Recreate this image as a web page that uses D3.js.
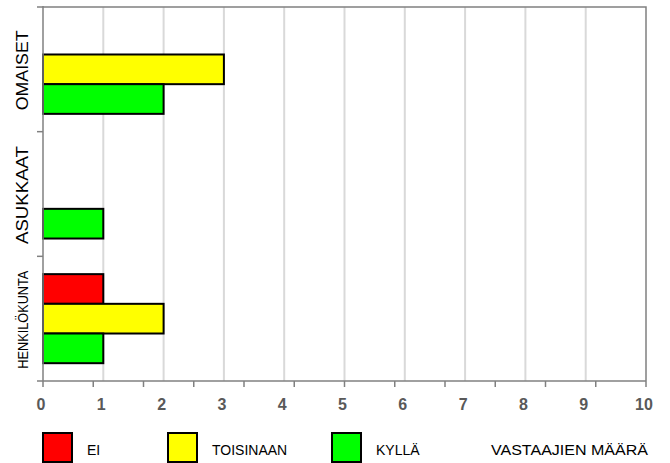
<!DOCTYPE html>
<html>
<head>
<meta charset="utf-8">
<script src="https://d3js.org/d3.v7.min.js"></script>
<style>
  body { margin: 0; background: #fff; }
  svg { font-family: "Liberation Sans", Arial, sans-serif; }
</style>
</head>
<body>
<svg width="670" height="463"></svg>
<script>
// data
var groups = ["OMAISET", "ASUKKAAT", "HENKILÖKUNTA"];
var series = ["EI", "TOISINAAN", "KYLLÄ"];
var colors = ["#ff0000", "#ffff00", "#00ff00"];
var ei        = [0, 0, 1];
var toisinaan = [3, 0, 2];
var kylla     = [2, 1, 1];
var xTicks = [0, 1, 2, 3, 4, 5, 6, 7, 8, 9, 10];
var legendTitle = "VASTAAJIEN MÄÄRÄ";

var values = [ei, toisinaan, kylla];
var rows = [];
groups.forEach(function(g, gi) {
  series.forEach(function(s, si) {
    rows.push({group: g, series: s, value: values[si][gi], color: colors[si]});
  });
});

var svg = d3.select("svg");
var plotL = 43, plotR = 646, plotT = 7, plotB = 381;

var x = d3.scaleLinear().domain([0, 10]).range([plotL, plotR]);
var y = d3.scaleBand().domain(groups).range([plotT, plotB]).padding(0);
var ySub = d3.scaleBand().domain(series).range([0, y.bandwidth()]).paddingOuter(0.6).paddingInner(0);

// gridlines
svg.append("g")
  .selectAll("line")
  .data(xTicks.slice(1, -1))
  .enter().append("line")
  .attr("x1", function(d) { return x(d); })
  .attr("x2", function(d) { return x(d); })
  .attr("y1", plotT)
  .attr("y2", plotB)
  .attr("stroke", "#d9d9d9")
  .attr("stroke-width", 2);

// frame top/right
svg.append("path")
  .attr("d", "M" + plotL + "," + plotT + "H" + plotR + "V" + plotB)
  .attr("fill", "none")
  .attr("stroke", "#808080")
  .attr("stroke-width", 1.5);

// bars
svg.append("g")
  .selectAll("rect")
  .data(rows.filter(function(d) { return d.value > 0; }))
  .enter().append("rect")
  .attr("x", x(0))
  .attr("y", function(d) { return y(d.group) + ySub(d.series); })
  .attr("width", function(d) { return x(d.value) - x(0); })
  .attr("height", ySub.bandwidth())
  .attr("fill", function(d) { return d.color; })
  .attr("stroke", "#000")
  .attr("stroke-width", 2);

// left axis
var yAxis = svg.append("g")
  .attr("transform", "translate(" + plotL + ",0)");
yAxis.append("line")
  .attr("x1", 0).attr("x2", 0)
  .attr("y1", plotT - 1).attr("y2", plotB)
  .attr("stroke", "#808080").attr("stroke-width", 1.5);
yAxis.selectAll(".tk")
  .data(groups.concat(["end"]))
  .enter().append("line")
  .attr("x1", -6).attr("x2", 0)
  .attr("y1", function(d, i) { return plotT + i * y.step(); })
  .attr("y2", function(d, i) { return plotT + i * y.step(); })
  .attr("stroke", "#808080").attr("stroke-width", 1.5);

var labelLen = {"OMAISET": 80, "ASUKKAAT": 98, "HENKILÖKUNTA": 98};
var labelSize = {"OMAISET": 17, "ASUKKAAT": 17, "HENKILÖKUNTA": 15};
svg.append("g")
  .selectAll("text")
  .data(groups)
  .enter().append("text")
  .attr("transform", function(d) {
    return "translate(28," + (y(d) + y.bandwidth() / 2 + 1) + ") rotate(-90)";
  })
  .attr("text-anchor", "middle")
  .attr("font-size", function(d) { return labelSize[d] + "px"; })
  .attr("textLength", function(d) { return labelLen[d]; })
  .attr("lengthAdjust", "spacingAndGlyphs")
  .attr("fill", "#000")
  .text(function(d) { return d; });

// bottom axis (tick marks spaced independently of gridlines)
var xMarks = d3.scaleLinear().domain([0, 12]).range([plotL, plotR]);
var bAxis = svg.append("g")
  .attr("transform", "translate(0," + plotB + ")");
bAxis.append("line")
  .attr("x1", plotL).attr("x2", plotR)
  .attr("stroke", "#808080").attr("stroke-width", 1.5);
bAxis.selectAll(".tk")
  .data(xMarks.ticks(12))
  .enter().append("line")
  .attr("x1", function(d) { return xMarks(d); })
  .attr("x2", function(d) { return xMarks(d); })
  .attr("y1", 0).attr("y2", 6)
  .attr("stroke", "#808080").attr("stroke-width", 1.5);

svg.append("g")
  .selectAll("text")
  .data(xTicks)
  .enter().append("text")
  .attr("x", function(d) { return x(d) - 2; })
  .attr("y", 410)
  .attr("text-anchor", "middle")
  .attr("font-size", "16px")
  .attr("font-weight", "bold")
  .attr("fill", "#595959")
  .text(function(d) { return d; });

// legend
var legendX = [43, 168, 332];
var legend = svg.append("g");
legend.selectAll("rect")
  .data(series)
  .enter().append("rect")
  .attr("x", function(d, i) { return legendX[i]; })
  .attr("y", 433)
  .attr("width", 29)
  .attr("height", 29)
  .attr("fill", function(d, i) { return colors[i]; })
  .attr("stroke", "#000")
  .attr("stroke-width", 2);
legend.selectAll("text")
  .data(series)
  .enter().append("text")
  .attr("x", function(d, i) { return legendX[i] + 44; })
  .attr("y", 455)
  .attr("font-size", "14px")
  .attr("fill", "#000")
  .text(function(d) { return d; });
legend.append("text")
  .attr("x", 491)
  .attr("y", 455)
  .attr("font-size", "14px")
  .attr("textLength", 157)
  .attr("lengthAdjust", "spacingAndGlyphs")
  .attr("fill", "#000")
  .text(legendTitle);
</script>
</body>
</html>
